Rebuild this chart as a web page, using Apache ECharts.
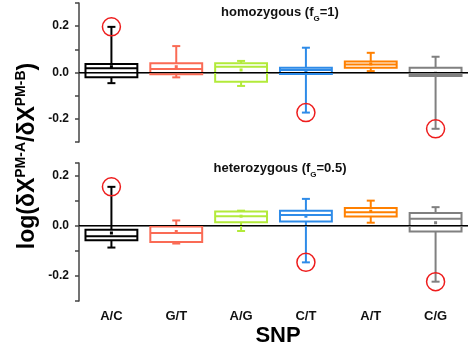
<!DOCTYPE html>
<html><head><meta charset="utf-8">
<script src="https://cdn.jsdelivr.net/npm/echarts@6/dist/echarts.min.js"></script>
<style>html,body{margin:0;padding:0;background:#fff}#c{width:468px;height:352px}</style>
</head><body><div id="c"></div>
<script>
const categories = ['A/C','G/T','A/G','C/T','A/T','C/G'];
const colors = ['#000000','#FA6B55','#B2EA3A','#2E8BE8','#FF8000','#808080'];
// [min, q1, median, q3, max, mean]
const homoMin    = [-0.046, -0.021, -0.058, -0.173, 0.006, -0.243];
const homoQ1     = [-0.021, -0.008, -0.040, -0.006, 0.021, -0.015];
const homoMedian = [ 0.018,  0.015,  0.025,  0.011, 0.034, -0.006];
const homoQ3     = [ 0.037,  0.040,  0.040,  0.021, 0.047,  0.021];
const homoMax    = [ 0.197,  0.114,  0.050,  0.107, 0.085,  0.068];
const homoMean   = [ 0.025,  0.025,  0.011,  0.008, 0.037, -0.003];
const homoOutlier = [1, 0, 0, -1, 0, -1]; // 1: circled max, -1: circled min

const hetMin    = [-0.087, -0.071, -0.021, -0.146, 0.012, -0.223];
const hetQ1     = [-0.058, -0.065,  0.014,  0.017, 0.037, -0.023];
const hetMedian = [-0.042, -0.029,  0.038,  0.043, 0.054,  0.028];
const hetQ3     = [-0.016, -0.003,  0.057,  0.060, 0.071,  0.051];
const hetMax    = [ 0.155,  0.021,  0.060,  0.107, 0.100,  0.074];
const hetMean   = [-0.029, -0.023,  0.038,  0.038, 0.058,  0.012];
const hetOutlier = [1, 0, 0, -1, 0, -1];

const FONT = 'Liberation Sans, Arial, sans-serif';

function build(mn, q1, md, q3, mx, mean, out) {
  return categories.map((c, i) => [i, mn[i], q1[i], md[i], q3[i], mx[i], mean[i], out[i]]);
}

function renderBox(params, api) {
  const i = api.value(0);
  const col = colors[params.dataIndex];
  const band = api.size([1, 0])[0];
  const bw = band * 0.8;
  const cap = 8;
  const cx = api.coord([i, 0])[0];
  const y = k => api.coord([i, api.value(k)])[1];
  const yMin = y(1), yQ1 = y(2), yMd = y(3), yQ3 = y(4), yMax = y(5), yMean = y(6);
  const out = api.value(7);
  const ls = {stroke: col, lineWidth: 2, fill: null};
  const ch = [
    {type:'line', shape:{x1:cx, y1:yQ3, x2:cx, y2:yMax}, style:ls},
    {type:'line', shape:{x1:cx, y1:yQ1, x2:cx, y2:yMin}, style:ls},
    {type:'line', shape:{x1:cx-cap/2, y1:yMax, x2:cx+cap/2, y2:yMax}, style:ls},
    {type:'line', shape:{x1:cx-cap/2, y1:yMin, x2:cx+cap/2, y2:yMin}, style:ls},
    {type:'rect', shape:{x:cx-bw/2, y:yQ3, width:bw, height:yQ1-yQ3}, style:ls},
    {type:'line', shape:{x1:cx-bw/2, y1:yMd, x2:cx+bw/2, y2:yMd}, style:ls},
    {type:'rect', shape:{x:cx-1.5, y:yMean-1.5, width:3, height:3}, style:{fill:col}}
  ];
  if (out !== 0) {
    const oy = out > 0 ? yMax : yMin;
    ch.push({type:'circle', shape:{cx:cx, cy:oy, r:9}, style:{stroke:'#EE1C1C', lineWidth:1.5, fill:null}});
  }
  return {type:'group', children: ch};
}

function yLabel(v) {
  const k = Math.round(v * 10);
  return (k % 2 === 0 && Math.abs(k) <= 2) ? (k / 10).toFixed(1) : '';
}

function xAxisCfg(gi, showLabel) {
  return {
    type:'category', gridIndex: gi, data: categories, boundaryGap: true,
    axisLine:{lineStyle:{color:'#444', width:1.5}},
    axisTick:{alignWithLabel:true, length:4, lineStyle:{color:'#444', width:1.5}},
    axisLabel:{show:showLabel, color:'#111', fontWeight:'bold', fontSize:13, fontFamily:FONT, margin:9}
  };
}
function yAxisCfg(gi, max) {
  return {
    type:'value', gridIndex: gi, min:-0.3, max:max, interval:0.1,
    splitLine:{show:false},
    axisLine:{show:true, lineStyle:{color:'#444', width:1.5}},
    axisTick:{show:true, length:4, lineStyle:{color:'#444', width:1.5}},
    axisLabel:{formatter:yLabel, color:'#111', fontWeight:'bold', fontSize:12, fontFamily:FONT, margin:10}
  };
}

const zeroLine = {silent:true, symbol:'none', label:{show:false},
  lineStyle:{color:'#000', width:1, type:'solid'}, data:[{yAxis:0}]};

const titleRich = {
  m:{fontSize:13, fontWeight:'bold', fontFamily:FONT, fill:'#111', lineHeight:17, verticalAlign:'top'},
  s:{fontSize:8, fontWeight:'bold', fontFamily:FONT, fill:'#111', lineHeight:17, verticalAlign:'bottom'}
};

const chart = echarts.init(document.getElementById('c'), null, {renderer:'canvas'});
chart.setOption({
  animation:false,
  grid:[
    {left:79, right:-9, top:3, height:139},
    {left:79, right:-9, top:163, height:138}
  ],
  xAxis:[xAxisCfg(0,false), xAxisCfg(1,true)],
  yAxis:[yAxisCfg(0,0.3), yAxisCfg(1,0.25)],
  series:[
    {type:'custom', xAxisIndex:0, yAxisIndex:0, renderItem:renderBox,
     encode:{x:0, y:[1,2,3,4,5]}, data: build(homoMin, homoQ1, homoMedian, homoQ3, homoMax, homoMean, homoOutlier),
     markLine: zeroLine, z:3},
    {type:'custom', xAxisIndex:1, yAxisIndex:1, renderItem:renderBox,
     encode:{x:0, y:[1,2,3,4,5]}, data: build(hetMin, hetQ1, hetMedian, hetQ3, hetMax, hetMean, hetOutlier),
     markLine: zeroLine, z:3}
  ],
  graphic:[
    {type:'text', x:280, y:14, style:{
      text:'{m|homozygous (f}{s|G}{m|=1)}', align:'center', verticalAlign:'middle', rich:titleRich}},
    {type:'text', x:280, y:170, style:{
      text:'{m|heterozygous (f}{s|G}{m|=0.5)}', align:'center', verticalAlign:'middle', rich:titleRich}},
    {type:'text', x:27, y:156, rotation:Math.PI/2, style:{
      text:'{m|log(δX}{s|PM-A}{m|/δX}{s|PM-B}{m|)}', align:'center', verticalAlign:'middle',
      rich:{m:{fontSize:23, fontWeight:'bold', fontFamily:FONT, fill:'#000', lineHeight:25, verticalAlign:'bottom'},
            s:{fontSize:14, fontWeight:'bold', fontFamily:FONT, fill:'#000', lineHeight:25, verticalAlign:'top'}}}},
    {type:'text', x:278, y:336, style:{text:'SNP', align:'center', verticalAlign:'middle',
      fontSize:22, fontWeight:'bold', fontFamily:FONT, fill:'#000'}}
  ]
});
</script></body></html>
